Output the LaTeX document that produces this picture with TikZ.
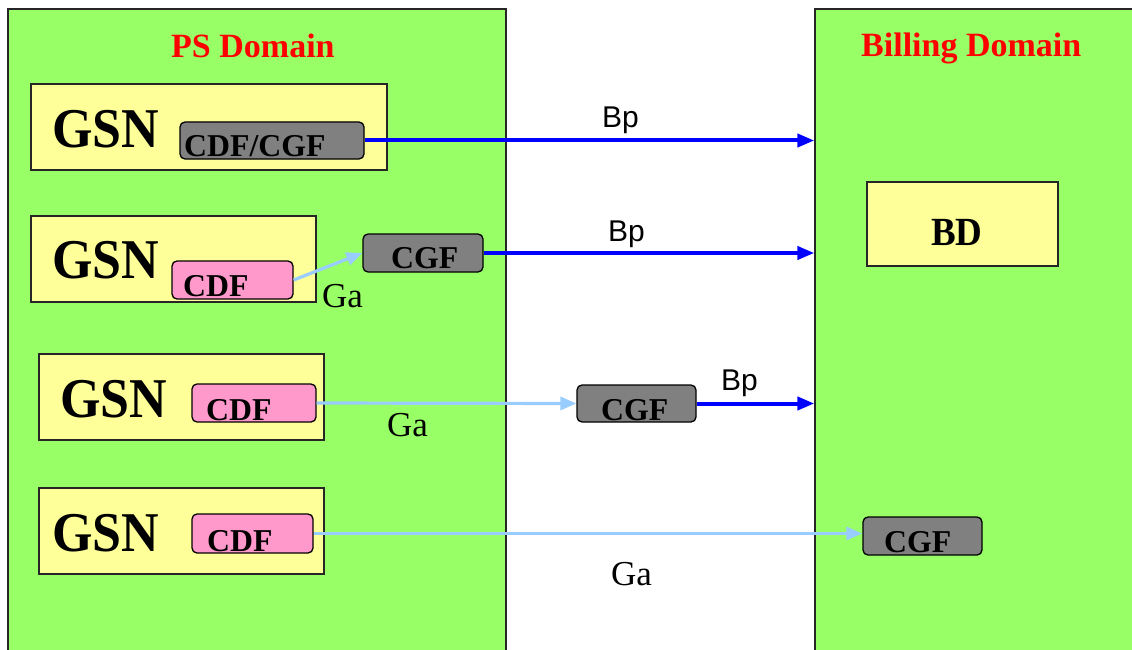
\documentclass[tikz,border=0pt]{standalone}
\usepackage{fontspec}
\setmainfont{Liberation Serif}
\setsansfont{Liberation Sans}
\usetikzlibrary{fit,arrows.meta}
\definecolor{domgreen}{HTML}{99FF66}
\definecolor{gsnyellow}{HTML}{FFFF99}
\definecolor{cdfpink}{HTML}{FF99CC}
\definecolor{cgfgray}{HTML}{808080}
\definecolor{bpblue}{HTML}{0000FF}
\definecolor{gablue}{HTML}{99CCFF}
\begin{document}
\begin{tikzpicture}[x=1pt,y=-1pt,
  dombox/.style={draw=black!85, line width=1.3pt, fill=domgreen, inner sep=0pt},
  gsnbox/.style={draw=black!85, line width=1.3pt, fill=gsnyellow, inner sep=0pt},
  cdfbox/.style={draw=black, line width=1.3pt, fill=cdfpink, rounded corners=5pt, inner sep=0pt},
  cgfbox/.style={draw=black, line width=1.3pt, fill=cgfgray, rounded corners=5pt, inner sep=0pt},
  lbl/.style={inner sep=0pt, anchor=base west},
  gsnlbl/.style={lbl, font=\bfseries\fontsize{52}{52}\selectfont},
  boxlbl/.style={lbl, font=\bfseries\fontsize{31.8}{31.8}\selectfont},
  bdlbl/.style={lbl, font=\bfseries\fontsize{37}{37}\selectfont},
  titlelbl/.style={lbl, text=red, font=\bfseries\fontsize{34}{34}\selectfont},
  bplbl/.style={lbl, font=\sffamily\fontsize{30}{30}\selectfont},
  galbl/.style={lbl, font=\fontsize{35}{35}\selectfont},
  bparrow/.style={draw=bpblue, line width=4pt, -{Triangle[length=17pt,width=13pt]}},
  gaarrow/.style={draw=gablue, line width=3.2pt, -{Triangle[length=16pt,width=13pt]}}
]
\useasboundingbox (0,0) rectangle (1132,650);
\fill[white] (0,0) rectangle (1132,650);

% domains
\node[dombox, fit={(8,9) (506,665)}] (ps) {};
\node[dombox, fit={(815,9) (1145,665)}] (bill) {};
\node[titlelbl] (pstitle) at (171,58) {PS Domain};
\node[titlelbl] (billtitle) at (861,57) {Billing Domain};

% BD
\node[gsnbox, fit={(867,182) (1058,266)}] (bd) {};
\node[bdlbl] (bdtext) at (931,245) {\scalebox{1}[1.08]{BD}};

% GSN boxes
\node[gsnbox, fit={(31,84) (387,170)}] (gsn1) {};
\node[gsnbox, fit={(31,216) (316,302)}] (gsn2) {};
\node[gsnbox, fit={(39,354) (324,440)}] (gsn3) {};
\node[gsnbox, fit={(39,488) (324,574)}] (gsn4) {};
\node[gsnlbl] (gsnt1) at (52,147) {\scalebox{1}[1.08]{GSN}};
\node[gsnlbl] (gsnt2) at (52,278) {\scalebox{1}[1.08]{GSN}};
\node[gsnlbl] (gsnt3) at (60,417) {\scalebox{1}[1.08]{GSN}};
\node[gsnlbl] (gsnt4) at (52,551) {\scalebox{1}[1.08]{GSN}};

% CDF / CGF boxes
\node[cgfbox, fit={(180,122) (364,159)}] (cdfcgf) {};
\node[boxlbl] (cdfcgft) at (184,157) {CDF/CGF};

\node[cdfbox, fit={(172,261) (293,299)}] (cdf2) {};
\node[boxlbl] (cdf2t) at (183,296) {CDF};
\node[cgfbox, fit={(363,234) (483,272)}] (cgf2) {};
\node[boxlbl] (cgf2t) at (391,268) {CGF};

\node[cdfbox, fit={(192,384) (316,422)}] (cdf3) {};
\node[boxlbl] (cdf3t) at (206,420) {CDF};
\node[cgfbox, fit={(577,385) (696,422)}] (cgf3) {};
\node[boxlbl] (cgf3t) at (601,420) {CGF};

\node[cdfbox, fit={(192,514) (313,553)}] (cdf4) {};
\node[boxlbl] (cdf4t) at (207,551) {CDF};
\node[cgfbox, fit={(863,517) (982,555)}] (cgf4) {};
\node[boxlbl] (cgf4t) at (884,552) {CGF};

% connectors
\draw[bparrow] (cdfcgf.east) -- (cdfcgf.east -| bill.west);
\draw[bparrow] (cgf2.east) -- (cgf2.east -| bill.west);
\draw[bparrow] (cgf3.east) -- (cgf3.east -| bill.west);
\draw[gaarrow] (cdf2.east) -- (cgf2.west);
\draw[gaarrow] (cdf3.east) -- (cgf3.west);
\draw[gaarrow] (cdf4.east) -- (cdf4.east -| cgf4.west);

% interface labels
\node[bplbl] (bp1) at (602,128) {Bp};
\node[bplbl] (bp2) at (608,241) {Bp};
\node[bplbl] (bp3) at (721,390) {Bp};
\node[galbl] (ga1) at (322,307) {Ga};
\node[galbl] (ga2) at (387,436) {Ga};
\node[galbl] (ga3) at (611,585) {Ga};
\end{tikzpicture}
\end{document}
